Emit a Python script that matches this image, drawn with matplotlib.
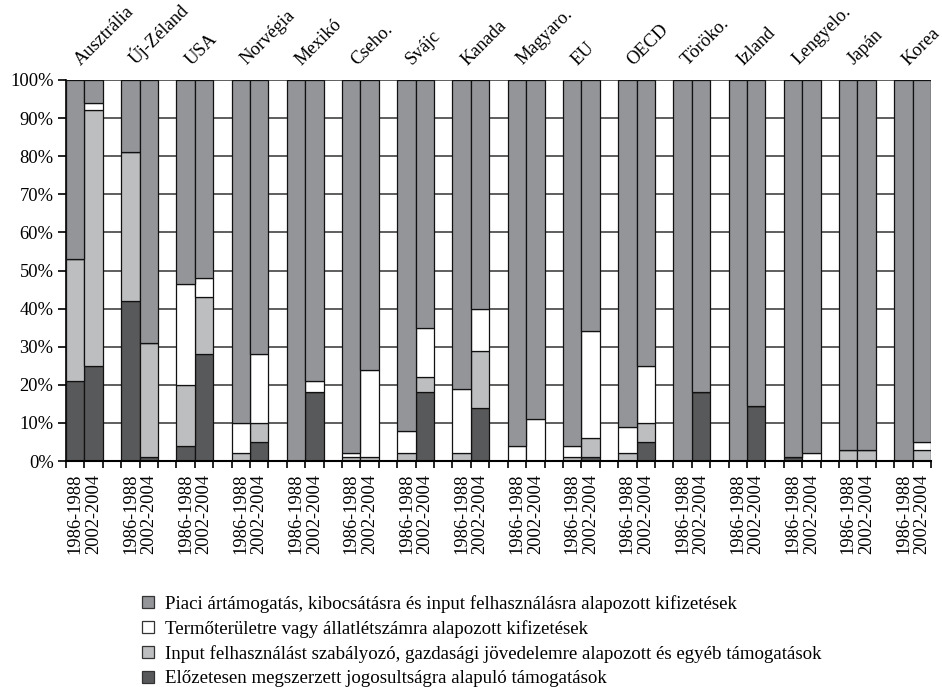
import matplotlib
matplotlib.use("Agg")
import matplotlib.pyplot as plt
from matplotlib.lines import Line2D
import numpy as np

plt.rcParams['font.family'] = ['Liberation Serif', 'DejaVu Serif']

countries = ['Ausztrália', 'Új-Zéland', 'USA', 'Norvégia', 'Mexikó', 'Cseho.', 'Svájc',
             'Kanada', 'Magyaro.', 'EU', 'OECD', 'Töröko.', 'Izland', 'Lengyelo.',
             'Japán', 'Korea']
periods = ['1986-1988', '2002-2004']

# values per bar: (country, period) pairs in order
eloz = [21, 25, 42, 1, 4, 28, 0, 5, 0, 18, 0, 0, 0, 18, 0, 14,
        0, 0, 0, 1, 0, 5, 0, 18, 0, 14.5, 1, 0, 0, 0, 0, 0]
inp = [32, 67, 39, 30, 16, 15, 2, 5, 0, 0, 1, 1, 2, 4, 2, 15,
       0, 0, 1, 5, 2, 5, 0, 0, 0, 0, 0, 0, 3, 3, 0, 3]
termo = [0, 2, 0, 0, 26.5, 5, 8, 18, 0, 3, 1, 23, 6, 13, 17, 11,
         4, 11, 3, 28, 7, 15, 0, 0, 0, 0, 0, 2, 0, 0, 0, 2]
piaci = [47, 6, 19, 69, 53.5, 52, 90, 72, 100, 79, 98, 76, 92, 65, 81, 60,
         96, 89, 96, 66, 91, 75, 100, 82, 100, 85.5, 99, 98, 97, 97, 100, 95]

labels = ['Piaci ártámogatás, kibocsátásra és input felhasználásra alapozott kifizetések',
          'Termőterületre vagy állatlétszámra alapozott kifizetések',
          'Input felhasználást szabályozó, gazdasági jövedelemre alapozott és egyéb támogatások',
          'Előzetesen megszerzett jogosultságra alapuló támogatások']

c_piaci = '#939598'
c_termo = '#ffffff'
c_inp = '#bcbec0'
c_eloz = '#58595b'

W, H = 942, 687
fig = plt.figure(figsize=(W / 100, H / 100), dpi=100)
ax = fig.add_axes([66 / W, 1 - 461 / H, (931 - 66) / W, (461 - 80) / H])

n = len(countries)
xpos = np.array([3 * g + j for g in range(n) for j in range(2)], dtype=float)

eloz_a = np.array(eloz, float)
inp_a = np.array(inp, float)
termo_a = np.array(termo, float)
piaci_a = np.array(piaci, float)

kw = dict(width=1.0, edgecolor='#111111', linewidth=0.9, zorder=3)
ax.bar(xpos, eloz_a, color=c_eloz, **kw)
ax.bar(xpos, inp_a, bottom=eloz_a, color=c_inp, **kw)
ax.bar(xpos, termo_a, bottom=eloz_a + inp_a, color=c_termo, **kw)
ax.bar(xpos, piaci_a, bottom=eloz_a + inp_a + termo_a, color=c_piaci, **kw)

ax.set_xlim(-0.5, 3 * n - 1.5)
ax.set_ylim(0, 100)

ax.set_yticks(np.arange(0, 101, 10))
ax.set_yticklabels([f'{v}%' for v in range(0, 101, 10)], fontsize=13.3)
ax.yaxis.grid(True, color='#333333', linewidth=1.1, zorder=0)
ax.set_axisbelow(True)

ax.set_xticks(xpos)
ax.set_xticklabels(periods * n, rotation=90, fontsize=13.3, va='top', ha='center')
ax.tick_params(axis='x', which='major', length=0, pad=9)
ax.set_xticks(np.arange(-0.5, 3 * n - 1.0, 1.0), minor=True)
ax.tick_params(axis='x', which='minor', length=5, width=1.2, direction='out', color='black')
ax.tick_params(axis='y', length=6, width=1.2, pad=3, color='black')

for s in ['top', 'right']:
    ax.spines[s].set_visible(False)
ax.spines['left'].set_linewidth(1.2)
ax.spines['bottom'].set_linewidth(1.5)
ax.spines['bottom'].set_zorder(5)

for g, name in enumerate(countries):
    xc = 3 * g + 0.5
    ax.text(xc - 0.2, 103.8, name, rotation=45, rotation_mode='anchor',
            ha='left', va='baseline', fontsize=13.3, clip_on=False)

handles = [Line2D([], [], marker='s', linestyle='none', markersize=9,
                  markerfacecolor=c, markeredgecolor='#333333', markeredgewidth=0.9)
           for c in [c_piaci, c_termo, c_inp, c_eloz]]
fig.legend(handles, labels, loc='upper left', bbox_to_anchor=(139 / W, 1 - 595 / H),
           frameon=False, fontsize=13.6, handlelength=0.9, handletextpad=0.5,
           labelspacing=0.38, borderaxespad=0, borderpad=0)

fig.savefig('out.png', dpi=100)
